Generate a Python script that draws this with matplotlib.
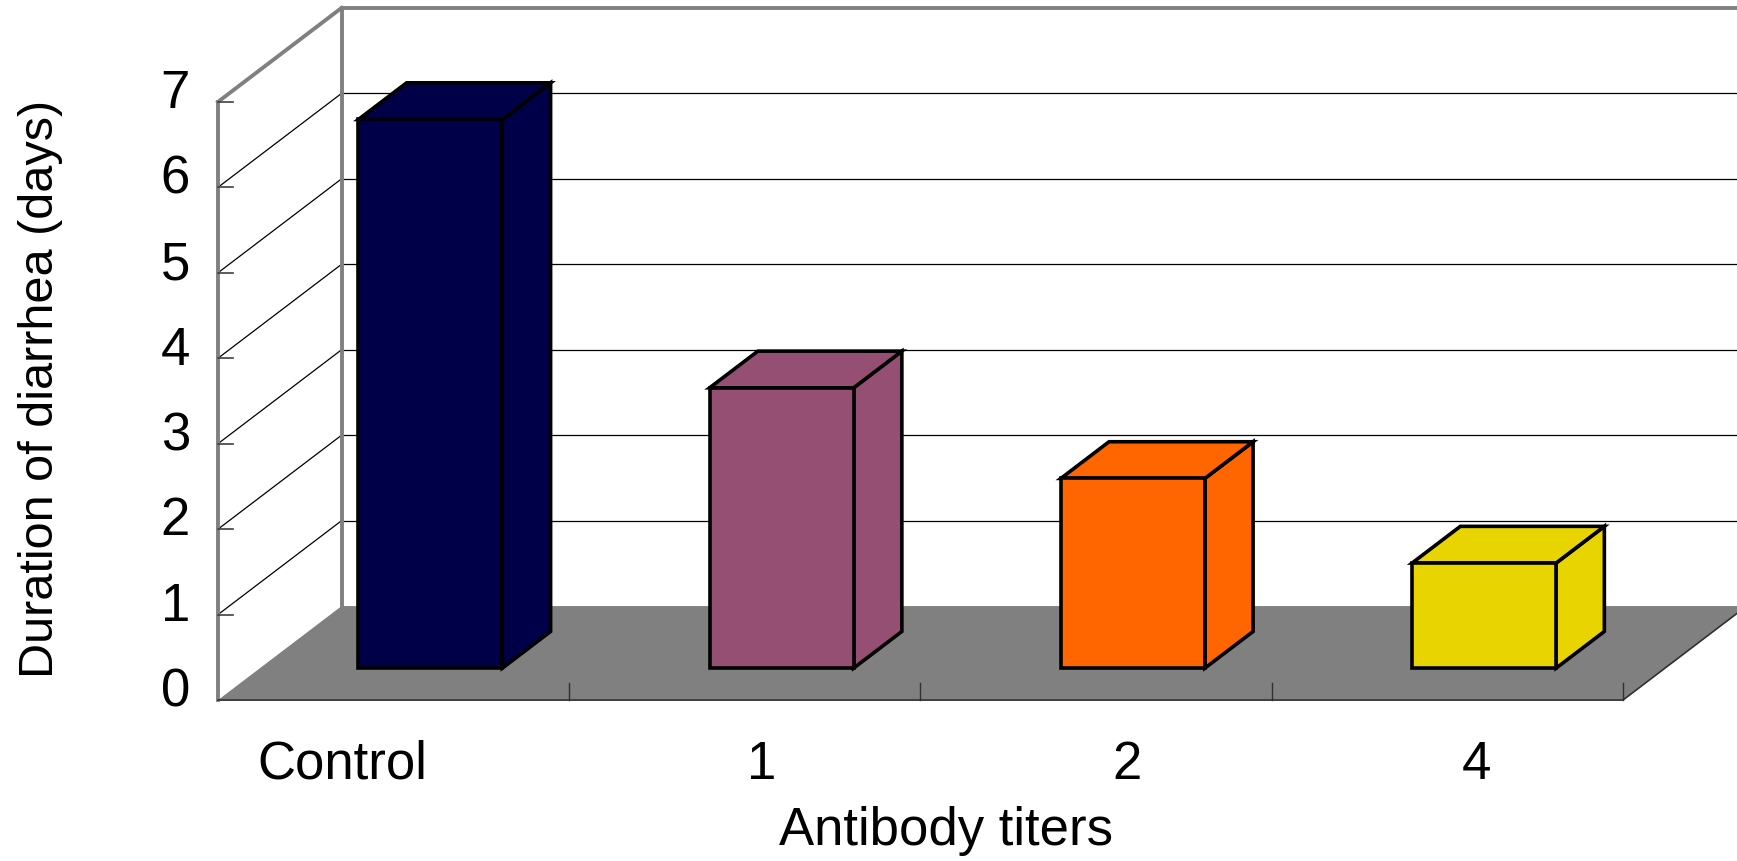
import matplotlib
matplotlib.use("Agg")
import matplotlib.pyplot as plt
from matplotlib.patches import Polygon

plt.rcParams['font.family'] = ['Liberation Sans', 'DejaVu Sans']

categories = ['Control', '1', '2', '4']
values = [6.42, 3.28, 2.22, 1.23]
colors = ['#000048', '#954F72', '#FF6600', '#E8D400']
yticks = [0, 1, 2, 3, 4, 5, 6, 7]
label_shift = [-0.147, 0.049, 0.088, 0.084]

# oblique "3d" offset for depth 1 (category units, value units)
DX, DY = 0.352, 1.10
YMAX = 7
NCAT = len(categories)


def P(c, v, d=0.0):
    return (c + d * DX, v + d * DY)


fig = plt.figure(figsize=(17.37, 8.61), dpi=100)
ax = fig.add_axes([0, 0, 1, 1])
ax.set_xlim(-0.6206, 4.3246)
ax.set_ylim(-1.883, 8.192)
ax.axis('off')

wall = '#808080'

# back wall gridlines
for v in yticks[1:-1]:
    x0, y0 = P(0, v, 1)
    x1, y1 = P(NCAT, v, 1)
    ax.plot([x0, x1], [y0, y1], color='black', lw=0.9, zorder=1)
    # left wall diagonals
    a = P(0, v, 0)
    ax.plot([a[0], x0], [a[1], y0], color='black', lw=0.9, zorder=1)

# wall edges
for p, q in [((0, 0, 0), (0, YMAX, 0)), ((0, YMAX, 0), (0, YMAX, 1)),
             ((0, 0, 1), (0, YMAX, 1)), ((0, YMAX, 1), (NCAT, YMAX, 1))]:
    a, b = P(*p), P(*q)
    ax.plot([a[0], b[0]], [a[1], b[1]], color=wall, lw=2.8, zorder=2,
            solid_capstyle='projecting')

# floor
floor = [P(0, 0, 0), P(NCAT, 0, 0), P(NCAT, 0, 1), P(0, 0, 1)]
ax.add_patch(Polygon(floor, closed=True, facecolor=wall, edgecolor='none', zorder=2))
a, b, c = P(0, 0, 0), P(NCAT, 0, 0), P(NCAT, 0, 1)
ax.plot([a[0], b[0], c[0]], [a[1], b[1], c[1]], color='#303030', lw=1.2, zorder=3)
for i in range(1, NCAT + 1):
    ax.plot([i, i], [0, 0.2], color='#303030', lw=1.0, zorder=3)

# y ticks and labels
for v in yticks:
    ax.plot([0, 0.043], [v, v], color='#404040', lw=1.2, zorder=3)
    ax.text(-0.0797, v + 0.09, str(v), ha='right', va='center', fontsize=38)

# bars
d0, d1 = 0.34, 0.73
for i, (h, col) in enumerate(zip(values, colors)):
    c0, c1 = i + 0.28, i + 0.69
    front = [P(c0, 0, d0), P(c1, 0, d0), P(c1, h, d0), P(c0, h, d0)]
    side = [P(c1, 0, d0), P(c1, 0, d1), P(c1, h, d1), P(c1, h, d0)]
    top = [P(c0, h, d0), P(c1, h, d0), P(c1, h, d1), P(c0, h, d1)]
    for face in (side, top, front):
        ax.add_patch(Polygon(face, closed=True, facecolor=col, edgecolor='black',
                             lw=2.6, joinstyle='miter', zorder=5))

# category labels
for i, (lab, s) in enumerate(zip(categories, label_shift)):
    ax.text(i + 0.5 + s, -0.923, lab, ha='center', va='baseline', fontsize=38)

ax.text(2.073, -1.696, 'Antibody titers', ha='center', va='baseline', fontsize=38)
ax.text(-0.504, 3.64, 'Duration of diarrhea (days)', ha='center', va='center',
        rotation=90, fontsize=35)

fig.savefig('out.png', dpi=100)
